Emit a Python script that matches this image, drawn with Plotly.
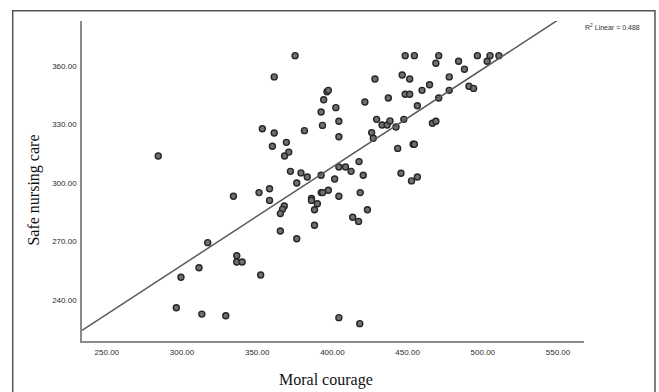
import plotly.graph_objects as go

# Data
moral_courage = [284.2, 375.2, 361.3, 353.4, 361.3, 360.1, 369.4, 371.0, 368.2, 372.1,
                 379.1, 383.3, 376.3, 381.4, 334.2, 351.2, 358.2, 358.2, 368.0, 366.8,
                 365.4, 365.4, 376.3, 317.1, 336.4, 336.4, 340.0, 311.3, 299.3, 352.3,
                 296.2, 313.2, 329.1, 404.3, 418.2, 392.5, 393.4, 394.2, 396.4, 397.3,
                 402.3, 404.3, 404.3, 404.3, 408.7, 412.4, 417.7, 420.5, 392.5, 401.5,
                 397.3, 392.6, 393.5, 386.1, 386.1, 390.0, 388.1, 388.1, 404.3, 418.5,
                 423.3, 413.5, 417.4, 421.6, 428.3, 429.4, 433.0, 436.4, 438.3, 437.2,
                 426.1, 427.2, 442.3, 443.4, 445.6, 446.4, 448.4, 454.5, 451.4, 448.4,
                 451.4, 447.5, 456.5, 453.7, 454.5, 452.6, 456.5, 459.6, 464.6, 468.8,
                 470.7, 470.7, 466.5, 468.8, 477.7, 477.7, 483.9, 487.8, 490.8, 493.9,
                 496.4, 502.9, 504.8, 510.7]
safe_nursing_care = [313.8, 365.3, 354.4, 327.8, 325.6, 318.8, 320.8, 315.8, 313.8, 305.9,
                     305.1, 303.0, 299.9, 326.8, 293.1, 295.0, 297.0, 291.0, 288.1, 286.4,
                     284.2, 275.3, 271.3, 269.3, 262.6, 259.4, 259.4, 256.4, 251.5, 252.7,
                     235.9, 232.6, 231.8, 230.8, 227.7, 336.4, 329.5, 342.7, 346.8, 347.5,
                     338.6, 331.6, 323.7, 308.1, 308.1, 305.9, 310.9, 303.9, 303.9, 302.0,
                     296.2, 295.0, 295.0, 292.0, 291.0, 289.3, 286.2, 278.2, 293.1, 295.0,
                     286.2, 282.3, 280.2, 341.5, 353.3, 332.6, 329.7, 329.7, 331.8, 343.6,
                     325.8, 322.9, 328.7, 317.7, 304.9, 355.4, 365.3, 365.3, 353.3, 345.5,
                     345.5, 332.6, 339.6, 319.8, 319.8, 301.0, 303.0, 347.5, 350.4, 361.4,
                     365.3, 343.6, 330.6, 331.6, 354.4, 347.5, 362.4, 358.3, 349.6, 348.5,
                     365.3, 362.4, 365.3, 365.3]

fit_slope = 0.5035
fit_intercept = 106.7
r2_label = "R<sup>2</sup> Linear = 0.488"

x_ticks = [250, 300, 350, 400, 450, 500, 550]
y_ticks = [240, 270, 300, 330, 360]
x_range = [233.5, 567.3]
y_range = [218.8, 383.1]

fig = go.Figure()

fig.add_trace(go.Scatter(
    x=moral_courage, y=safe_nursing_care, mode="markers",
    marker=dict(size=6, color="#707070", line=dict(color="#262626", width=1.4)),
    showlegend=False, hoverinfo="skip"))

line_x = x_range
line_y = [fit_intercept + fit_slope * v for v in line_x]
fig.add_trace(go.Scatter(
    x=line_x, y=line_y, mode="lines",
    line=dict(color="#5a5a5a", width=1.5),
    showlegend=False, hoverinfo="skip"))

tick_font = dict(family="Liberation Sans, Arial, sans-serif", size=8, color="#2a2a2a")

fig.update_layout(
    width=659, height=392,
    margin=dict(l=82, r=75, t=21, b=51),
    paper_bgcolor="white", plot_bgcolor="white",
    xaxis=dict(range=x_range, tickvals=x_ticks, ticktext=[f"{v:.2f}" for v in x_ticks],
               showgrid=False, zeroline=False, showline=True, linecolor="#8a8a8a",
               linewidth=1.5, ticks="outside", ticklen=3, tickcolor="rgba(0,0,0,0)",
               tickfont=tick_font),
    yaxis=dict(range=y_range, tickvals=y_ticks, ticktext=[f"{v:.2f}" for v in y_ticks],
               showgrid=False, zeroline=False, showline=True, linecolor="#8a8a8a",
               linewidth=1.5, ticks="outside", ticklen=2, tickcolor="rgba(0,0,0,0)",
               tickfont=tick_font),
    shapes=[dict(type="rect", xref="paper", yref="paper",
                 x0=-0.138, x1=1.1414, y0=-0.2, y1=1.032,
                 line=dict(color="#555555", width=1.5), fillcolor="rgba(0,0,0,0)")],
    annotations=[
        dict(text="Moral courage", xref="paper", yref="paper", x=0.486, y=-0.122,
             xanchor="center", yanchor="middle", showarrow=False,
             font=dict(family="Liberation Serif, Times New Roman, serif", size=16, color="#111111")),
        dict(text="Safe nursing care", xref="paper", yref="paper", x=-0.0964, y=0.472,
             xanchor="center", yanchor="middle", showarrow=False, textangle=-90,
             font=dict(family="Liberation Serif, Times New Roman, serif", size=16, color="#111111")),
        dict(text=r2_label, xref="paper", yref="paper", x=0.998, y=0.981,
             xanchor="left", yanchor="middle", showarrow=False,
             font=dict(family="Liberation Sans, Arial, sans-serif", size=7, color="#333333")),
    ],
)

fig.write_html("out.html",
               config={"displayModeBar": False},
               post_script="document.body.style.margin='0';document.body.style.overflow='hidden';")
